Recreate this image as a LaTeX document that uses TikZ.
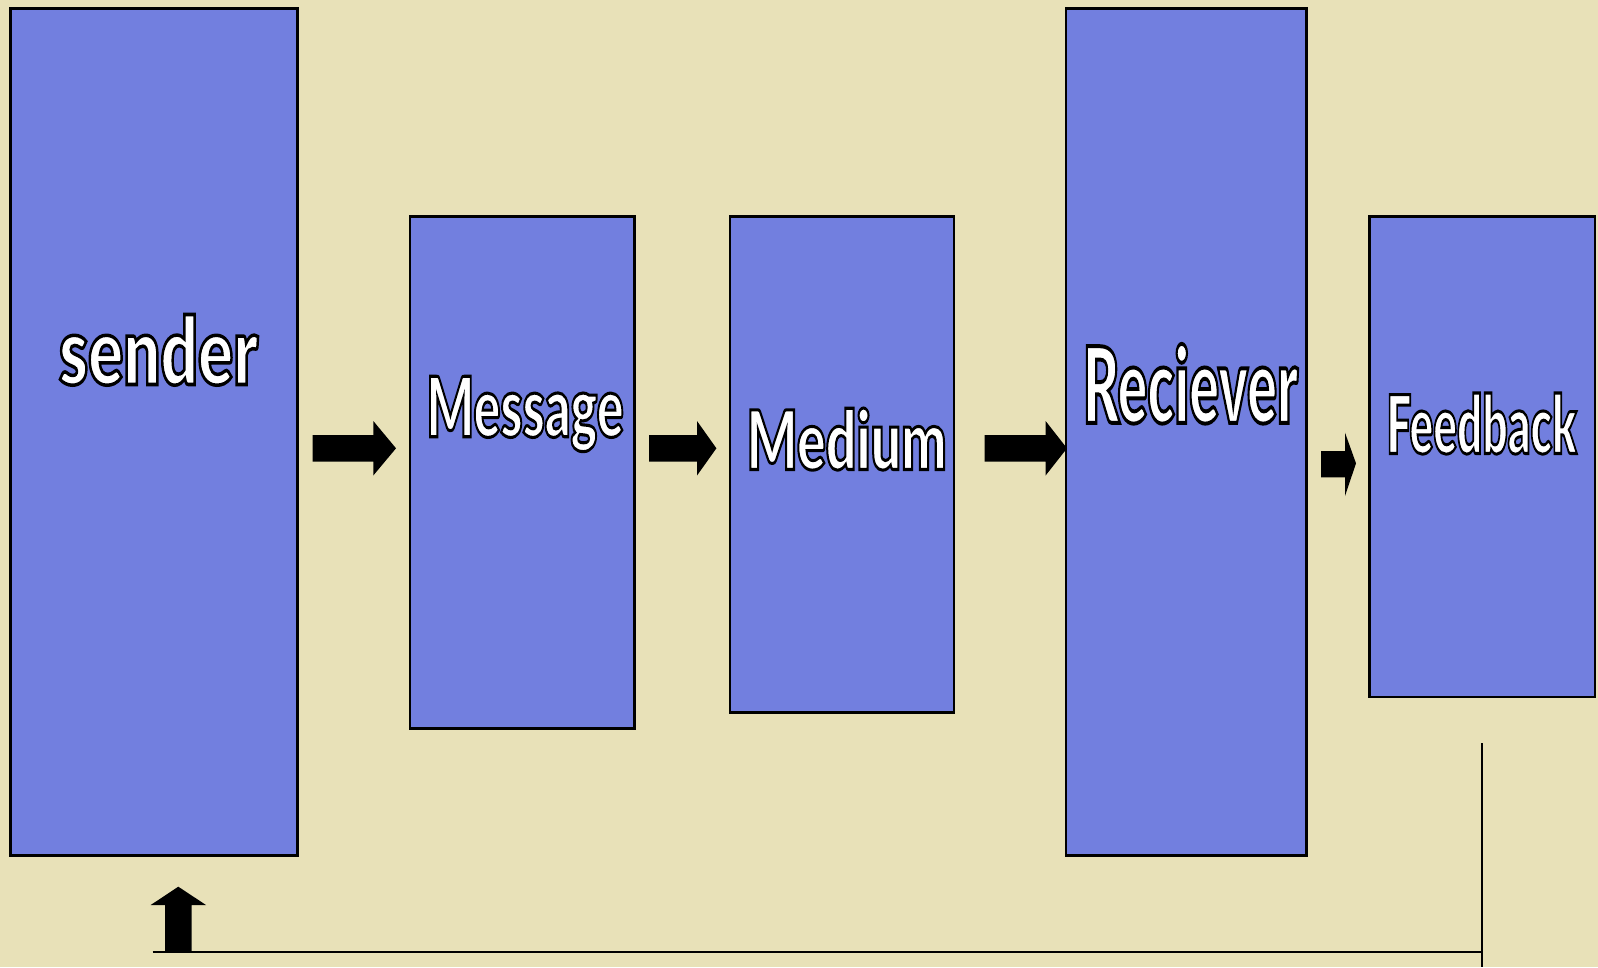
\documentclass[tikz,border=0pt]{standalone}
\usepackage{fontspec}
\setmainfont{Liberation Sans}
\newfontfamily\wafont{Lato Black}
\usepackage{graphicx}
\definecolor{bg}{RGB}{232,225,184}
\definecolor{boxfill}{RGB}{114,127,223}
\newcommand{\outl}[1]{\special{pdf:literal direct 0 0 0 RG 2 Tr 3 w}#1\special{pdf:literal direct 0 Tr}}
\newcommand{\wt}[3]{\resizebox{#1pt}{#2pt}{\fontsize{80}{90}\selectfont\wafont\color{white}\outl{#3}}}
\tikzset{
  blk/.style={draw=black, line width=2.6pt, fill=boxfill, inner sep=0pt},
  lbl/.style={anchor=base west, inner sep=0pt, outer sep=0pt},
  barrow/.style={fill=black, draw=none},
  fbline/.style={draw=black, line width=2pt}
}
\begin{document}
\begin{tikzpicture}[x=1pt,y=-1pt]
\useasboundingbox (0,0) rectangle (1598,967);
\fill[bg] (0,0) rectangle (1598,967);
% boxes
\path[blk] (10.5,8.5) rectangle (297.5,855.5) node[pos=0.5,inner sep=0] (sender) {};
\path[blk] (410,216.5) rectangle (634.5,728.5) node[pos=0.5,inner sep=0] (message) {};
\path[blk] (730,216.5) rectangle (954,712.5) node[pos=0.5,inner sep=0] (medium) {};
\path[blk] (1066,8.5) rectangle (1306.3,855.5) node[pos=0.5,inner sep=0] (receiver) {};
\path[blk] (1369.6,216.5) rectangle (1594.9,697) node[pos=0.5,inner sep=0] (feedback) {};
% labels
\node[lbl] (tsender) at (59,384.5) {\wt{199}{70}{sender}};
\node[lbl] (tmessage) at (426.5,436.8) {\wt{197}{60.5}{Message}};
\node[lbl] (tmedium) at (746.5,469.5) {\wt{200}{61.5}{Medium}};
\node[lbl] (treceiver) at (1083,422.8) {\wt{215}{79}{Reciever}};
\node[lbl] (tfeedback) at (1386.5,453.5) {\wt{190}{60.5}{Feedback}};
% block arrows
\fill[barrow] (312.7,435) -- (373.3,435) -- (373.3,421) -- (396,448.3) -- (373.3,475.5) -- (373.3,461.5) -- (312.7,461.5) -- cycle;
\fill[barrow] (649.2,435) -- (697,435) -- (697,421) -- (716.4,448.3) -- (697,475.5) -- (697,461.5) -- (649.2,461.5) -- cycle;
\fill[barrow] (984.5,435) -- (1045.6,435) -- (1045.6,421) -- (1067,448.3) -- (1045.6,475.5) -- (1045.6,461.5) -- (984.5,461.5) -- cycle;
\fill[barrow] (1321,451) -- (1345,451) -- (1345,432.7) -- (1356,463.3) -- (1345,496) -- (1345,477.3) -- (1321,477.3) -- cycle;
\fill[barrow] (165,952) -- (165,905) -- (150.7,905) -- (178.3,886.7) -- (206,905) -- (191.7,905) -- (191.7,952) -- cycle;
% feedback loop lines
\coordinate (fbtop) at (1482,743.3);
\coordinate (fbbot) at (1482,967);
\coordinate (corner) at (1482,952.3);
\coordinate (loopend) at (152.7,952.3);
\draw[fbline] (fbtop) -- (fbbot);
\draw[fbline] (loopend) -- (corner);
\end{tikzpicture}
\end{document}
